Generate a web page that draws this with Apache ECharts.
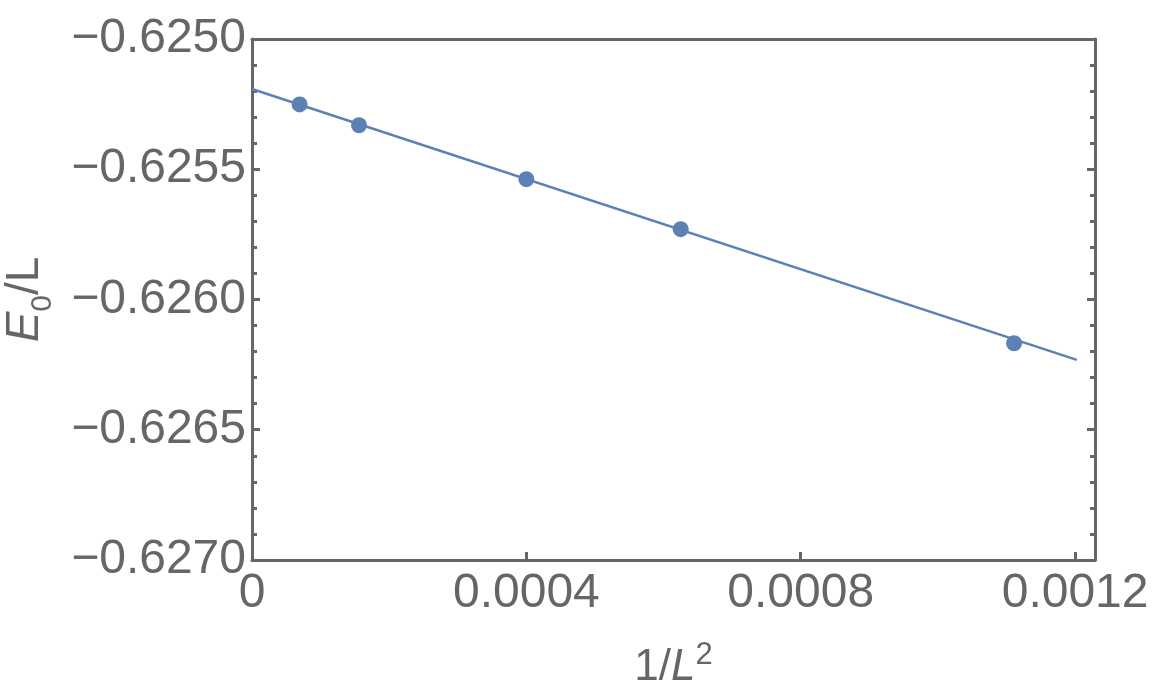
<!DOCTYPE html>
<html>
<head>
    <meta charset="UTF-8">
    <title>E0/L vs 1/L^2</title>
    <script src="https://cdn.jsdelivr.net/npm/echarts@6/dist/echarts.min.js"></script>
    <style>
        body { margin: 0; background: #fff; }
        #chart { width: 1162px; height: 700px; }
    </style>
</head>
<body>
<div id="chart"></div>
<script>
    // data points (1/L^2, E0/L)
    var xVals = [0.0000694, 0.000156, 0.0004, 0.000625, 0.001111];
    var yVals = [-0.625251, -0.625331, -0.625538, -0.625730, -0.626168];
    // fitted line end points
    var fitX = [0, 0.0012025];
    var fitY = [-0.625192, -0.626232];
    // tick labels
    var xTicks = [0, 0.0004, 0.0008, 0.0012];
    var xTickLabels = ['0', '0.0004', '0.0008', '0.0012'];
    var yTickLabels = ['\u22120.6250', '\u22120.6255', '\u22120.6260', '\u22120.6265', '\u22120.6270'];

    var gray = '#666666';
    var blue = '#5E81B5';
    var font = 'Liberation Sans';

    var chart = echarts.init(document.getElementById('chart'));

    function yLabel(v) {
        // map value to its label from the list
        var idx = Math.round((-0.625 - v) / 0.0005);
        return yTickLabels[idx] || '';
    }
    function xLabel(v) {
        for (var i = 0; i < xTicks.length; i++) {
            if (Math.abs(v - xTicks[i]) < 1e-9) return xTickLabels[i];
        }
        return '';
    }

    var scatterData = xVals.map(function (x, i) { return [x, yVals[i]]; });
    var lineData = fitX.map(function (x, i) { return [x, fitY[i]]; });

    chart.setOption({
        animation: false,
        grid: { left: 252, right: 67, top: 39, bottom: 140, containLabel: false, outerBoundsMode: 'none' },
        xAxis: [
            {
                type: 'value', position: 'bottom', min: 0, max: 0.001229,
                name: '{n|1/}{i|L}{s|2}', nameLocation: 'middle', nameGap: 80,
                nameTextStyle: {
                    color: gray, fontFamily: font, fontSize: 44,
                    rich: {
                        n: { fontSize: 44, color: gray, fontFamily: font, lineHeight: 50, verticalAlign: 'bottom' },
                        i: { fontSize: 44, color: gray, fontFamily: font, fontStyle: 'italic', lineHeight: 50, verticalAlign: 'bottom' },
                        s: { fontSize: 31, color: gray, fontFamily: font, lineHeight: 50, verticalAlign: 'top' }
                    }
                },
                axisLine: { onZero: false, lineStyle: { color: gray, width: 3 } },
                axisTick: { inside: true, length: 8, lineStyle: { color: gray, width: 3 }, customValues: xTicks },
                axisLabel: { color: gray, fontFamily: font, fontSize: 48, margin: 10, customValues: xTicks, formatter: xLabel },
                splitLine: { show: false }
            },
            {
                type: 'value', position: 'top', min: 0, max: 0.001229,
                axisLine: { onZero: false, lineStyle: { color: gray, width: 3 } },
                axisTick: { show: false },
                axisLabel: { show: false },
                splitLine: { show: false }
            }
        ],
        yAxis: [
            {
                type: 'value', position: 'left', min: -0.627, max: -0.625, interval: 0.0005,
                name: '{e|E}{s|0}{n|/L}', nameLocation: 'middle', nameRotate: 90, nameGap: 194,
                nameTextStyle: {
                    color: gray, fontFamily: font, fontSize: 46,
                    rich: {
                        e: { fontSize: 46, color: gray, fontFamily: font, fontStyle: 'italic', lineHeight: 56, verticalAlign: 'top' },
                        s: { fontSize: 30, color: gray, fontFamily: font, lineHeight: 56, verticalAlign: 'bottom' },
                        n: { fontSize: 46, color: gray, fontFamily: font, lineHeight: 56, verticalAlign: 'top' }
                    }
                },
                axisLine: { onZero: false, lineStyle: { color: gray, width: 3 } },
                axisTick: { inside: true, length: 8, lineStyle: { color: gray, width: 3 } },
                minorTick: { show: true, splitNumber: 5, length: 5, lineStyle: { color: gray, width: 3 } },
                axisLabel: { color: gray, fontFamily: font, fontSize: 48, margin: 6, formatter: yLabel },
                splitLine: { show: false }
            },
            {
                type: 'value', position: 'right', min: -0.627, max: -0.625, interval: 0.0005,
                axisLine: { onZero: false, lineStyle: { color: gray, width: 3 } },
                axisTick: { inside: true, length: 8, lineStyle: { color: gray, width: 3 } },
                minorTick: { show: true, splitNumber: 5, length: 5, lineStyle: { color: gray, width: 3 } },
                axisLabel: { show: false },
                splitLine: { show: false }
            }
        ],
        series: [
            {
                name: 'fit', type: 'line', data: lineData, showSymbol: false, symbol: 'none',
                lineStyle: { color: blue, width: 2.5 }, z: 2
            },
            {
                name: 'data', type: 'scatter', data: scatterData, symbolSize: 16,
                itemStyle: { color: blue, opacity: 1 }, z: 3
            }
        ]
    });
</script>
</body>
</html>
